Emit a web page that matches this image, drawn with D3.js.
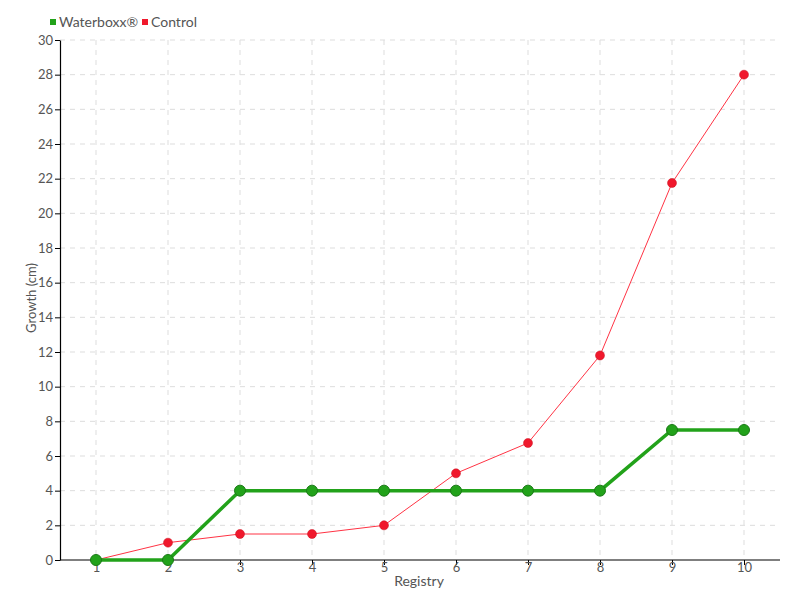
<!DOCTYPE html>
<html><head><meta charset="utf-8">
<script src="https://cdn.jsdelivr.net/npm/d3@7"></script>
<style>
body{margin:0;background:#fff;}
text{font-family:Lato,"Open Sans",sans-serif;}
</style></head><body>
<svg id="c" width="800" height="600"></svg>
<script>
const registry = [1,2,3,4,5,6,7,8,9,10];
const waterboxx = [0,0,4,4,4,4,4,4,7.5,7.5];
const control = [0,1,1.5,1.5,2,5,6.75,11.8,21.75,28];
const yTicks = d3.range(0,31,2);
const seriesNames = ["Waterboxx®","Control"];
const colors = ["#22a21a","#f0182c"];
const FONT = 'Lato,"Open Sans",sans-serif';

const svg = d3.select("#c");
const m = {l:60,r:20,t:40,b:40};
const W = 800, H = 600;
const x = d3.scalePoint().domain(registry).range([m.l,W-m.r]).padding(0.5);
const y = d3.scaleLinear().domain([0,30]).range([H-m.b,m.t]);

// grid
const g = svg.append("g");
g.selectAll(".hg").data(yTicks.slice(1)).join("line")
 .attr("x1",m.l).attr("x2",W-m.r).attr("y1",d=>y(d)).attr("y2",d=>y(d))
 .attr("stroke","#ddd").attr("stroke-dasharray","5,5");
g.selectAll(".vg").data(registry).join("line")
 .attr("x1",d=>x(d)).attr("x2",d=>x(d)).attr("y1",m.t).attr("y2",H-m.b)
 .attr("stroke","#ddd").attr("stroke-dasharray","5,5");

// axes
const xa = svg.append("g").attr("transform",`translate(0,${H-m.b})`)
 .call(d3.axisBottom(x).tickSize(5).tickPadding(-2).tickSizeOuter(0));
const ya = svg.append("g").attr("transform",`translate(${m.l},0)`)
 .call(d3.axisLeft(y).tickValues(yTicks).tickSize(5).tickPadding(2).tickSizeOuter(0));
[xa,ya].forEach(a=>{
  a.select(".domain").attr("stroke","#000").attr("stroke-width",1.2);
  a.selectAll(".tick line").attr("stroke","#000");
  a.selectAll("text").attr("fill","#555").style("font-size","13px").style("font-family",FONT);
});
xa.select(".domain").attr("d",`M${m.l},0H${W-m.r}`);

svg.append("text").attr("x",419).attr("y",586).attr("text-anchor","middle")
 .attr("fill","#555").style("font-size","14px").text("Registry");
svg.append("text").attr("transform","translate(36,298) rotate(-90)").attr("text-anchor","middle")
 .attr("fill","#555").style("font-size","13px").text("Growth (cm)");

// lines
const line = d3.line().x((d,i)=>x(registry[i])).y(d=>y(d));
svg.append("path").datum(control).attr("d",line).attr("fill","none")
 .attr("stroke","#ff3344").attr("stroke-width",1);
svg.append("path").datum(waterboxx).attr("d",line).attr("fill","none")
 .attr("stroke",colors[0]).attr("stroke-width",3.5);
svg.selectAll(".pc").data(control).join("circle")
 .attr("cx",(d,i)=>x(registry[i])).attr("cy",d=>y(d)).attr("r",4.5)
 .attr("fill",colors[1]).attr("stroke","#c8101f").attr("stroke-width",0.5);
svg.selectAll(".pw").data(waterboxx).join("circle")
 .attr("cx",(d,i)=>x(registry[i])).attr("cy",d=>y(d)).attr("r",5.5)
 .attr("fill",colors[0]).attr("stroke","#1a7a16").attr("stroke-width",1);

// legend
const lg = svg.append("g");
const lx = [50,142];
seriesNames.forEach((n,i)=>{
  lg.append("rect").attr("x",lx[i]).attr("y",19).attr("width",6).attr("height",6).attr("fill",colors[i]);
  lg.append("text").attr("x",lx[i]+9).attr("y",27).attr("fill","#555").style("font-size","14px").text(n);
});
</script></body></html>
